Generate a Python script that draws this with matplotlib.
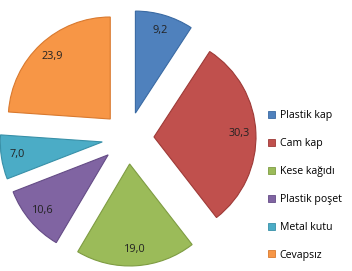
import matplotlib.pyplot as plt
from matplotlib.patches import Patch

plt.rcParams['font.family'] = ['Open Sans', 'DejaVu Sans']

categories = ['Plastik kap', 'Cam kap', 'Kese kağıdı', 'Plastik poşet', 'Metal kutu', 'Cevapsız']
values = [9.2, 30.3, 19.0, 10.6, 7.0, 23.9]
labels = ['9,2', '30,3', '19,0', '10,6', '7,0', '23,9']
colors = ['#4F81BD', '#C0504D', '#9BBB59', '#8064A2', '#4BACC6', '#F79646']
edges = ['#3A6AA3', '#9E3A37', '#7E9C42', '#654C86', '#3890A8', '#D9792E']

fig = plt.figure(figsize=(3.52, 2.71), dpi=100)
ax = fig.add_axes([-0.0057, 0.011, 260 / 352, 260 / 271])

wedges, texts = ax.pie(values, radius=1.02, explode=[0.26] * len(values),
                       startangle=90, counterclock=False, colors=colors,
                       labels=labels, labeldistance=0.84,
                       wedgeprops=dict(linewidth=0.8),
                       textprops=dict(fontsize=7.8, color='#222222', ha='center', va='center'))
for w, e in zip(wedges, edges):
    w.set_edgecolor(e)
for t in texts:
    t.set_horizontalalignment('center')

ax.set_xlim(-1.3, 1.3)
ax.set_ylim(-1.3, 1.3)
ax.set_aspect('equal')
ax.axis('off')

handles = [Patch(facecolor=c, edgecolor=e, linewidth=0.6) for c, e in zip(colors, edges)]
fig.legend(handles, categories, loc='upper left', bbox_to_anchor=(264 / 352, 1 - 106 / 271),
           frameon=False, fontsize=7.6, handlelength=0.65, handleheight=0.65,
           handletextpad=0.45, labelspacing=1.6, borderaxespad=0)

fig.savefig('out.png', dpi=100)
